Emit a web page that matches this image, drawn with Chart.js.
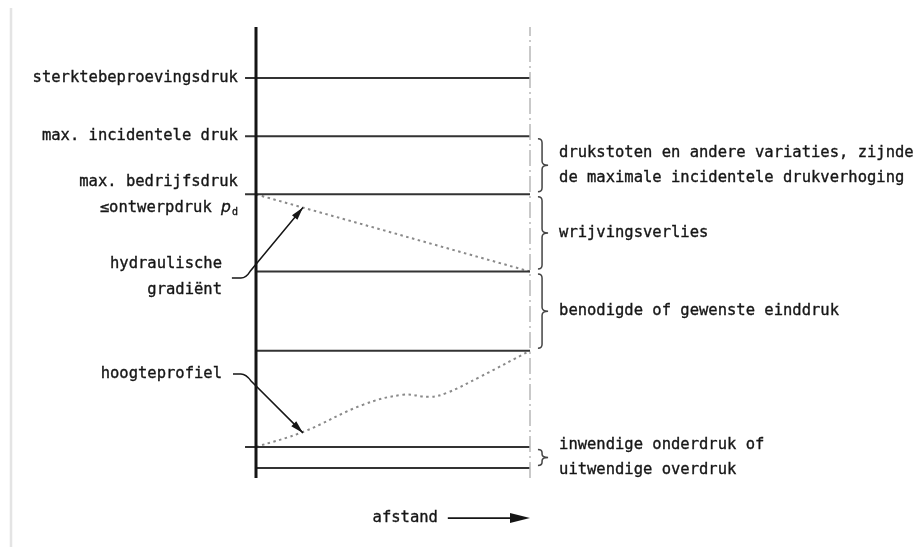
<!DOCTYPE html>
<html>
<head>
<meta charset="utf-8">
<style>
  html, body { margin: 0; padding: 0; background: #fff; }
  #wrap { width: 919px; height: 547px; position: relative; }
</style>
</head>
<body>
<div id="wrap"><canvas id="mychart"></canvas></div>
<script src="https://cdn.jsdelivr.net/npm/chart.js@4.4.0/dist/chart.umd.min.js"></script>
<script>

// pressure levels in diagram units (0 = foot of the axis)
var levels = [39.9, 34.1, 28.3, 20.6, 12.7, 3.1, 1.0];
var levelHasTick = [true, true, true, false, false, true, false];

// hydraulic gradient over the distance 0..100
var gradientX = [0, 100];
var gradientY = [28.3, 20.6];

// height profile along the pipe
var profileX = [0, 17.2, 39, 53.6, 63.5, 69.7, 81.8, 100];
var profileY = [3.1, 4.6, 7.3, 8.3, 8.1, 8.5, 10.1, 12.7];

// texts
var leftLabels = [
  ['sterktebeproevingsdruk'],
  ['max. incidentele druk'],
  ['max. bedrijfsdruk', '\u2264ontwerpdruk p_d'],
  ['hydraulische', 'gradi\u00ebnt'],
  ['hoogteprofiel']
];
var rightLabels = [
  ['drukstoten en andere variaties, zijnde', 'de maximale incidentele drukverhoging'],
  ['wrijvingsverlies'],
  ['benodigde of gewenste einddruk'],
  ['inwendige onderdruk of', 'uitwendige overdruk']
];
var braceSpans = [[1, 2], [2, 3], [3, 4], [5, 6]];   // pairs of levels
var axisLabel = 'afstand';

// ---- layout (diagram units) ----
var leftPos = [
  { x: -6.6, y: 39.9 },
  { x: -6.6, y: 34.1 },
  { x: -6.6, y: 28.2 },
  { x: -12.4, y: 20.1 },
  { x: -12.4, y: 10.4 }
];
// leader: start, end of straight bit, bend control, bend end, arrow tip
var arrows = [
  [[-8.8, 19.96], [-5.5, 19.96], [-3.65, 19.96], [-2.2, 20.6], [17.15, 27.0]],
  [[-8.4, 10.38], [-5.5, 10.38], [-3.65, 10.38], [-1.8, 9.68], [17.15, 4.5]]
];
var FONT = '15.5px "DejaVu Sans Mono"';
var INK = '#161616';

function seg(xs, ys) {
  return xs.map(function (v, i) { return { x: v, y: ys[i] }; });
}

var datasets = [];
// vertical axis
datasets.push({ data: seg([0, 0], [0, 45]), borderColor: '#151515', borderWidth: 3 });
// end of pipeline (dash-dot)
datasets.push({ data: seg([100, 100], [0, 45]), borderColor: '#b8b8b8', borderWidth: 1.5, borderDash: [16, 4, 2, 4] });
// pressure levels
levels.forEach(function (lv, i) {
  datasets.push({
    data: seg([levelHasTick[i] ? -4 : 0, 100], [lv, lv]),
    borderColor: '#333', borderWidth: 2
  });
});
// hydraulic gradient
datasets.push({ data: seg(gradientX, gradientY), borderColor: '#8a8a8a', borderWidth: 2, borderDash: [2.5, 3.5] });
// height profile
datasets.push({ data: seg(profileX, profileY), borderColor: '#8a8a8a', borderWidth: 2, borderDash: [2.5, 3.5], tension: 0.4 });

datasets.forEach(function (d) {
  d.showLine = true;
  d.pointRadius = 0;
  d.clip = false;
  d.fill = false;
});

function arrowHead(ctx, x1, y1, x2, y2, len, half) {
  var a = Math.atan2(y2 - y1, x2 - x1);
  ctx.beginPath();
  ctx.moveTo(x2, y2);
  ctx.lineTo(x2 - len * Math.cos(a) + half * Math.sin(a), y2 - len * Math.sin(a) - half * Math.cos(a));
  ctx.lineTo(x2 - len * Math.cos(a) - half * Math.sin(a), y2 - len * Math.sin(a) + half * Math.cos(a));
  ctx.closePath();
  ctx.fill();
}

function inkText(ctx, t, x, y) {
  ctx.fillText(t, x, y);
  ctx.strokeText(t, x, y);
}

var annotations = {
  id: 'annotations',
  beforeDraw: function (chart) {
    var ctx = chart.ctx;
    ctx.save();
    ctx.strokeStyle = '#e4e4e4';
    ctx.lineWidth = 2.5;
    ctx.beginPath();
    ctx.moveTo(11, 8);
    ctx.lineTo(11, 547);
    ctx.stroke();
    ctx.restore();
  },
  afterDatasetsDraw: function (chart) {
    var ctx = chart.ctx;
    var sx = chart.scales.x, sy = chart.scales.y;
    var px = function (u) { return sx.getPixelForValue(u); };
    var py = function (v) { return sy.getPixelForValue(v); };
    ctx.save();
    ctx.fillStyle = INK;
    ctx.strokeStyle = INK;
    ctx.lineWidth = 0.35;
    ctx.font = FONT;
    ctx.textBaseline = 'middle';

    // left labels, right aligned
    var lh = 26;
    leftLabels.forEach(function (lines, i) {
      var rx = px(leftPos[i].x);
      var cy = py(leftPos[i].y) - (lines.length - 1) * lh / 2;
      lines.forEach(function (t, k) {
        var yy = cy + k * lh;
        if (t.indexOf('p_d') >= 0) {
          var main = t.replace('p_d', '');
          ctx.font = FONT;
          var w1 = ctx.measureText(main).width;
          ctx.font = 'italic 15.5px "DejaVu Sans"';
          var w2 = ctx.measureText('p').width;
          ctx.font = '10px "DejaVu Sans Mono"';
          var w3 = ctx.measureText('d').width;
          var x0 = rx - (w1 + w2 + w3 + 1);
          ctx.textAlign = 'left';
          ctx.font = FONT;
          inkText(ctx, main, x0, yy);
          ctx.font = 'italic 15.5px "DejaVu Sans"';
          inkText(ctx, 'p', x0 + w1, yy);
          ctx.font = '10px "DejaVu Sans Mono"';
          inkText(ctx, 'd', x0 + w1 + w2 + 1, yy + 4);
          ctx.font = FONT;
        } else {
          ctx.textAlign = 'right';
          inkText(ctx, t, rx, yy);
        }
      });
    });

    // leader arrows
    ctx.lineWidth = 1.5;
    arrows.forEach(function (pts) {
      var p = pts.map(function (q) { return [px(q[0]), py(q[1])]; });
      ctx.beginPath();
      ctx.moveTo(p[0][0], p[0][1]);
      ctx.lineTo(p[1][0], p[1][1]);
      ctx.quadraticCurveTo(p[2][0], p[2][1], p[3][0], p[3][1]);
      ctx.lineTo(p[4][0], p[4][1]);
      ctx.stroke();
      arrowHead(ctx, p[3][0], p[3][1], p[4][0], p[4][1], 13, 3.5);
    });

    // braces and their texts
    ctx.strokeStyle = '#444';
    ctx.lineWidth = 1.5;
    var x0 = px(102.9), xb = px(104.4), xt = px(106.6), tx = px(110.6);
    braceSpans.forEach(function (sp, i) {
      var top = py(levels[sp[0]]) + 2.5, bot = py(levels[sp[1]]) - 2.5;
      var mid = (top + bot) / 2;
      var r = Math.min(4, (bot - top) / 5);
      ctx.strokeStyle = '#444';
      ctx.lineWidth = 1.5;
      ctx.beginPath();
      ctx.moveTo(x0, top);
      ctx.quadraticCurveTo(xb, top, xb, top + r);
      ctx.lineTo(xb, mid - r);
      ctx.quadraticCurveTo(xb, mid, xt, mid);
      ctx.quadraticCurveTo(xb, mid, xb, mid + r);
      ctx.lineTo(xb, bot - r);
      ctx.quadraticCurveTo(xb, bot, x0, bot);
      ctx.stroke();

      var lines = rightLabels[i];
      var lh2 = 25.5;
      ctx.textAlign = 'left';
      ctx.strokeStyle = INK;
      ctx.lineWidth = 0.35;
      lines.forEach(function (t, k) {
        inkText(ctx, t, tx, mid - (lines.length - 1) * lh2 / 2 + k * lh2);
      });
    });

    // distance axis arrow
    var ay = py(-4.0);
    ctx.textAlign = 'right';
    inkText(ctx, axisLabel, px(66.4), ay);
    ctx.strokeStyle = INK;
    ctx.lineWidth = 1.8;
    ctx.beginPath();
    ctx.moveTo(px(70), ay);
    ctx.lineTo(px(95), ay);
    ctx.stroke();
    arrowHead(ctx, px(70), ay, px(100), ay, 20, 5);
    ctx.restore();
  }
};

var ctxEl = document.getElementById('mychart').getContext('2d');
var diagram = new Chart(ctxEl, {
  type: 'scatter',
  data: { datasets: datasets },
  options: {
    responsive: true,
    maintainAspectRatio: false,
    animation: false,
    layout: { padding: { left: 256, right: 389, top: 27, bottom: 69 } },
    scales: {
      x: { type: 'linear', min: 0, max: 100, display: false },
      y: { type: 'linear', min: 0, max: 45, display: false }
    },
    plugins: { legend: { display: false }, tooltip: { enabled: false } },
    events: []
  },
  plugins: [annotations]
});
</script>
</body>
</html>
